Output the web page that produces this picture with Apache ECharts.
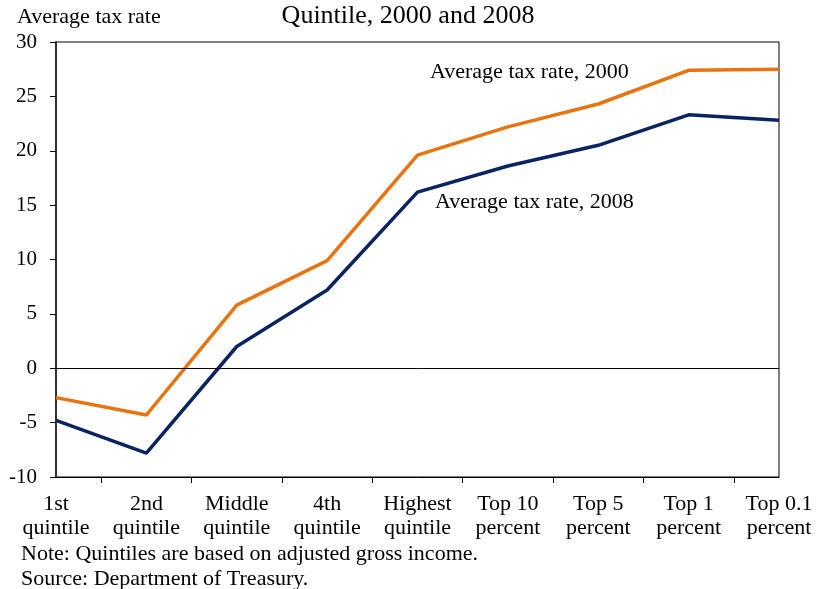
<!doctype html>
<html>
<head>
<meta charset="utf-8">
<title>Average tax rate</title>
<script src="https://cdn.jsdelivr.net/npm/echarts@6/dist/echarts.min.js"></script>
<style>
	html, body { margin: 0; padding: 0; background: #fff; }
	#main { width: 816px; height: 589px; }
</style>
</head>
<body>
<div id="main"></div>
<script>
	// categories (two lines each)
	var groups = ['1st\nquintile', '2nd\nquintile', 'Middle\nquintile', '4th\nquintile', 'Highest\nquintile',
		'Top 10\npercent', 'Top 5\npercent', 'Top 1\npercent', 'Top 0.1\npercent'];
	var rate2000 = [-2.7, -4.3, 5.8, 9.9, 19.6, 22.2, 24.3, 27.4, 27.5];
	var rate2008 = [-4.8, -7.8, 2.0, 7.2, 16.2, 18.6, 20.5, 23.3, 22.8];
	var yTicks = [-10, -5, 0, 5, 10, 15, 20, 25, 30];

	// half-step slots, only used to put ticks between the points
	var halfSlots = [];
	for (var i = 0; i < groups.length * 2 - 1; i++) halfSlots.push(String(i));

	var font = 'Liberation Serif';
	var myChart = echarts.init(document.getElementById('main'));

	var option = {
		animation: false,
		backgroundColor: '#fff',
		textStyle: { fontFamily: font, color: '#000' },
		title: {
			text: 'Quintile, 2000 and 2008',
			left: 'center', top: 3, padding: 0,
			textStyle: { fontFamily: font, fontSize: 26, fontWeight: 'normal', color: '#000' }
		},
		grid: { left: 56, right: 37, top: 42, bottom: 112, show: true, borderColor: '#000', borderWidth: 1 },
		xAxis: [{
			type: 'category',
			data: groups,
			boundaryGap: false,
			axisLine: { onZero: false, lineStyle: { color: '#000', width: 1 } },
			axisTick: { show: false },
			axisLabel: { fontFamily: font, fontSize: 22, color: '#000', lineHeight: 24, margin: 15, interval: 0 }
		}, {
			type: 'category',
			data: halfSlots,
			boundaryGap: false,
			position: 'bottom',
			axisLine: { show: false, onZero: false },
			axisLabel: { show: false },
			axisTick: {
				show: true, length: 6, lineStyle: { color: '#000' },
				interval: function (idx) { return idx % 2 === 1; }
			}
		}],
		yAxis: {
			type: 'value',
			min: -10, max: 30, interval: 5,
			axisLine: { show: true, lineStyle: { color: '#333', width: 2 } },
			axisTick: { show: true, length: 6, lineStyle: { color: '#000' } },
			splitLine: { show: false },
			axisLabel: {
				fontFamily: font, fontSize: 21, color: '#000', margin: 19,
				formatter: function (v) { return yTicks.indexOf(v) >= 0 ? String(v) : ''; }
			}
		},
		series: [{
			name: 'Average tax rate, 2000',
			type: 'line',
			data: rate2000,
			symbol: 'none',
			lineStyle: { color: '#E8740F', width: 3.5 },
			itemStyle: { color: '#E8740F' },
			markLine: {
				silent: true, symbol: 'none', label: { show: false },
				lineStyle: { color: '#000', width: 1, type: 'solid' },
				data: [{ yAxis: 0 }]
			}
		}, {
			name: 'Average tax rate, 2008',
			type: 'line',
			data: rate2008,
			symbol: 'none',
			lineStyle: { color: '#0A2463', width: 3.5 },
			itemStyle: { color: '#0A2463' }
		}],
		graphic: [
			{ type: 'text', left: 17, top: 6, style: { text: 'Average tax rate', font: '22px "Liberation Serif"', fill: '#000' } },
			{ type: 'text', left: 430, top: 61, style: { text: 'Average tax rate, 2000', font: '22px "Liberation Serif"', fill: '#000' } },
			{ type: 'text', left: 435, top: 191, style: { text: 'Average tax rate, 2008', font: '22px "Liberation Serif"', fill: '#000' } },
			{ type: 'text', left: 21, top: 543, style: { text: 'Note: Quintiles are based on adjusted gross income.', font: '22px "Liberation Serif"', fill: '#000' } },
			{ type: 'text', left: 21, top: 568, style: { text: 'Source: Department of Treasury.', font: '22px "Liberation Serif"', fill: '#000' } }
		]
	};
	myChart.setOption(option);
</script>
</body>
</html>
